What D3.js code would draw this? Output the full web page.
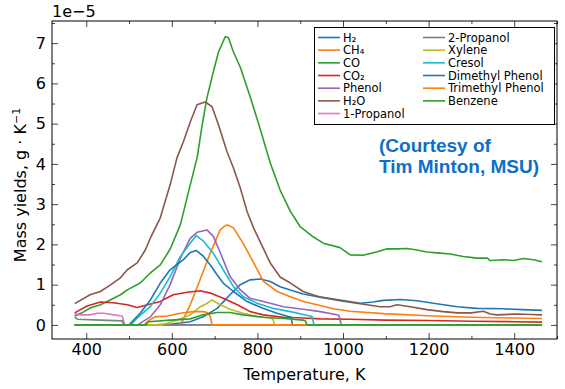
<!DOCTYPE html>
<html>
<head>
<meta charset="utf-8">
<script src="https://cdn.jsdelivr.net/npm/d3@7"></script>
<style>
  body { margin: 0; background: #fff; }
</style>
</head>
<body>
<div class="chart"></div>
<script>
// values in units of 1e-5 g/K, pairs of [temperature K, yield]
const h2 = [[373,0],[560,0],[600,0.02],[643,0.08],[673,0.2],[706,0.41],[736,0.75],[760,1.0],[783,1.12],[807,1.14],[830,1.08],[853,0.95],[877,0.87],[907,0.77],[947,0.69],[993,0.62],[1040,0.54],[1070,0.57],[1094,0.61],[1134,0.63],[1173,0.6],[1211,0.54],[1267,0.45],[1313,0.41],[1375,0.4],[1420,0.38],[1465,0.36]]
const ch4 = [[373,0],[615,0],[625,0.1],[643,0.5],[666,1.12],[690,1.79],[713,2.36],[725,2.47],[732,2.48],[744,2.41],[767,2.02],[791,1.55],[814,1.08],[846,0.83],[877,0.7],[907,0.58],[947,0.48],[977,0.4],[1017,0.34],[1094,0.28],[1211,0.22],[1300,0.19],[1400,0.17],[1465,0.16]]
const co = [[373,0.22],[390,0.3],[409,0.42],[433,0.5],[456,0.62],[480,0.75],[496,0.87],[526,1.04],[550,1.29],[573,1.49],[596,1.88],[620,2.49],[643,3.48],[659,4.15],[671,4.97],[682,5.64],[697,6.29],[709,6.78],[725,7.16],[732,7.14],[744,6.78],[760,6.4],[783,5.67],[807,4.85],[830,4.02],[853,3.35],[877,2.82],[900,2.44],[930,2.19],[954,2.03],[993,1.92],[1017,1.74],[1047,1.73],[1080,1.82],[1103,1.89],[1126,1.89],[1150,1.9],[1173,1.86],[1196,1.81],[1220,1.79],[1250,1.76],[1281,1.7],[1313,1.66],[1337,1.66],[1344,1.6],[1375,1.62],[1398,1.6],[1422,1.65],[1445,1.62],[1465,1.57]]
const co2 = [[373,0.3],[402,0.47],[433,0.57],[463,0.55],[496,0.5],[519,0.43],[550,0.52],[573,0.58],[603,0.75],[636,0.81],[666,0.85],[690,0.79],[720,0.66],[753,0.5],[783,0.33],[814,0.25],[861,0.19],[907,0.17],[947,0.15],[1017,0.14],[1100,0.12],[1200,0.11],[1300,0.09],[1400,0.08],[1465,0.07]]
const phenol = [[373,0],[520,0],[550,0.2],[573,0.5],[596,1.0],[620,1.66],[643,2.15],[659,2.3],[682,2.36],[697,2.2],[713,1.8],[736,1.2],[760,0.87],[783,0.66],[814,0.58],[861,0.45],[907,0.39],[947,0.33],[977,0.27],[990,0.24],[996,0],[1465,0]]
const h2o = [[373,0.53],[409,0.75],[433,0.83],[456,0.99],[479,1.16],[496,1.37],[519,1.54],[538,1.86],[550,2.16],[573,2.66],[596,3.48],[612,4.15],[627,4.55],[643,5.04],[659,5.47],[678,5.54],[694,5.42],[709,4.97],[729,4.3],[744,3.9],[760,3.4],[776,2.81],[791,2.41],[807,2.05],[830,1.54],[853,1.19],[877,1.04],[907,0.83],[947,0.69],[993,0.6],[1024,0.55],[1056,0.5],[1087,0.45],[1110,0.45],[1126,0.5],[1157,0.45],[1196,0.38],[1234,0.33],[1267,0.3],[1300,0.3],[1328,0.34],[1344,0.27],[1360,0.25],[1407,0.27],[1440,0.26],[1465,0.25]]
const propanol1 = [[373,0.28],[385,0.25],[409,0.25],[425,0.29],[440,0.29],[465,0.25],[484,0.22],[490,0],[1465,0]]
const propanol2 = [[373,0.2],[380,0.14],[433,0.12],[484,0.1],[488,0],[1465,0]]
const xylene = [[373,0],[575,0],[600,0.08],[620,0.15],[643,0.25],[666,0.45],[680,0.52],[694,0.62],[713,0.5],[736,0.39],[767,0.29],[799,0.21],[830,0.17],[836,0.15],[840,0],[1465,0]]
const cresol = [[373,0],[505,0],[519,0.17],[550,0.46],[573,0.79],[596,1.2],[620,1.7],[643,2.03],[657,2.22],[674,2.08],[697,1.78],[720,1.37],[744,0.95],[767,0.7],[799,0.54],[837,0.41],[877,0.33],[923,0.22],[928,0.2],[932,0],[1465,0]]
const dimethyl = [[373,0],[500,0],[526,0.29],[550,0.62],[573,1.04],[596,1.37],[627,1.62],[643,1.8],[657,1.85],[674,1.7],[690,1.49],[706,1.24],[720,1.04],[744,0.83],[776,0.58],[814,0.41],[846,0.29],[872,0.21],[878,0.2],[882,0],[1465,0]]
const trimethyl = [[373,0],[535,0],[545,0.1],[560,0.2],[589,0.22],[620,0.29],[650,0.33],[673,0.33],[685,0.3],[690,0.2],[694,0],[1465,0]]
const benzene = [[373,0],[540,0],[545,0.08],[596,0.12],[643,0.15],[673,0.25],[706,0.31],[736,0.31],[767,0.25],[814,0.19],[861,0.16],[907,0.12],[912,0.1],[916,0],[1465,0]]

const names = ['H\u2082', 'CH\u2084', 'CO', 'CO\u2082', 'Phenol', 'H\u2082O', '1-Propanol', '2-Propanol', 'Xylene', 'Cresol', 'Dimethyl Phenol', 'Trimethyl Phenol', 'Benzene']
const colors = ['#1f77b4', '#ff7f0e', '#2ca02c', '#d62728', '#9467bd', '#8c564b', '#e377c2', '#7f7f7f', '#bcbd22', '#17becf', '#1f77b4', '#ff7f0e', '#2ca02c']
const seriesData = [h2, ch4, co, co2, phenol, h2o, propanol1, propanol2, xylene, cresol, dimethyl, trimethyl, benzene]

const xTicks = [400, 600, 800, 1000, 1200, 1400]
const xMinor = [500, 700, 900, 1100, 1300, 1500]
const yTicks = [0, 1, 2, 3, 4, 5, 6, 7]
const yMinor = [0.5, 1.5, 2.5, 3.5, 4.5, 5.5, 6.5, 7.5]

const width = 565,
      height = 389
const pLeft = 52, pRight = 557, pTop = 21, pBottom = 339

const svg = d3.select('.chart').append('svg')
  .attr('width', width)
  .attr('height', height)
  .attr('font-family', 'DejaVu Sans')

const x = d3.scaleLinear().domain([320, 1500]).range([pLeft, pRight])
const y = d3.scaleLinear().domain([-0.35, 7.55]).range([pBottom, pTop])

const line = d3.line()
  .x(d => x(d[0]))
  .y(d => y(d[1]))

svg.append('defs').append('clipPath').attr('id', 'plotclip')
  .append('rect')
  .attr('x', pLeft).attr('y', pTop)
  .attr('width', pRight - pLeft).attr('height', pBottom - pTop)

const g = svg.append('g').attr('clip-path', 'url(#plotclip)')

g.selectAll('path.series')
  .data(seriesData)
  .enter().append('path')
  .attr('class', 'series')
  .attr('d', line)
  .attr('fill', 'none')
  .attr('stroke', (d, i) => colors[i])
  .attr('stroke-width', 1.6)
  .attr('stroke-linejoin', 'round')

// axes, ticks pointing inward on all four sides
function styleAxis(sel) {
  sel.select('.domain').remove()
  sel.selectAll('.tick line').attr('stroke', '#444').attr('stroke-width', 1)
  sel.selectAll('text')
    .attr('font-family', 'DejaVu Sans')
    .attr('font-size', 16)
    .attr('fill', '#000')
}

svg.append('g').attr('transform', `translate(0,${pBottom})`)
  .call(d3.axisBottom(x).tickValues(xTicks).tickSize(-6).tickPadding(5).tickFormat(d3.format('d')))
  .call(styleAxis)
svg.append('g').attr('transform', `translate(0,${pBottom})`)
  .call(d3.axisBottom(x).tickValues(xMinor).tickSize(-3).tickFormat(''))
  .call(styleAxis)
svg.append('g').attr('transform', `translate(0,${pTop})`)
  .call(d3.axisTop(x).tickValues(xTicks).tickSize(-6).tickFormat(''))
  .call(styleAxis)
svg.append('g').attr('transform', `translate(0,${pTop})`)
  .call(d3.axisTop(x).tickValues(xMinor).tickSize(-3).tickFormat(''))
  .call(styleAxis)

svg.append('g').attr('transform', `translate(${pLeft},0)`)
  .call(d3.axisLeft(y).tickValues(yTicks).tickSize(-6).tickPadding(6).tickFormat(d3.format('d')))
  .call(styleAxis)
svg.append('g').attr('transform', `translate(${pLeft},0)`)
  .call(d3.axisLeft(y).tickValues(yMinor).tickSize(-3).tickFormat(''))
  .call(styleAxis)
svg.append('g').attr('transform', `translate(${pRight},0)`)
  .call(d3.axisRight(y).tickValues(yTicks).tickSize(-6).tickFormat(''))
  .call(styleAxis)
svg.append('g').attr('transform', `translate(${pRight},0)`)
  .call(d3.axisRight(y).tickValues(yMinor).tickSize(-3).tickFormat(''))
  .call(styleAxis)

svg.append('rect')
  .attr('x', pLeft).attr('y', pTop)
  .attr('width', pRight - pLeft).attr('height', pBottom - pTop)
  .attr('fill', 'none')
  .attr('stroke', '#000')
  .attr('stroke-width', 1)

svg.append('text')
  .attr('x', pLeft)
  .attr('y', 17)
  .attr('font-size', 16)
  .text('1e\u22125')

svg.append('text')
  .attr('x', (pLeft + pRight) / 2)
  .attr('y', 380)
  .attr('text-anchor', 'middle')
  .attr('font-size', 16)
  .text('Temperature, K')

const ylab = svg.append('text')
  .attr('transform', 'translate(26,185) rotate(-90)')
  .attr('text-anchor', 'middle')
  .attr('font-size', 16)
ylab.append('tspan').text('Mass yields, g \u00b7 K')
ylab.append('tspan').attr('font-size', 11).attr('dy', -6).text('\u22121')

// legend
const lg = svg.append('g')
lg.append('rect')
  .attr('x', 314.5).attr('y', 27.5)
  .attr('width', 240).attr('height', 97)
  .attr('fill', '#fff')
  .attr('stroke', '#000')
  .attr('stroke-width', 1)

names.forEach((name, i) => {
  const col = i < 7 ? 0 : 1
  const row = i < 7 ? i : i - 7
  const lx = col === 0 ? 318 : 423
  const ly = 37.5 + row * 12.67
  lg.append('line')
    .attr('x1', lx).attr('x2', lx + 22)
    .attr('y1', ly).attr('y2', ly)
    .attr('stroke', colors[i])
    .attr('stroke-width', 1.6)
  lg.append('text')
    .attr('x', lx + 25)
    .attr('y', ly + 4)
    .attr('font-size', 11.5)
    .text(name)
})

const note = svg.append('g')
  .attr('font-family', 'Liberation Sans')
  .attr('font-weight', 'bold')
  .attr('font-size', 19)
  .attr('fill', '#0f6fc6')
note.append('text').attr('x', 379).attr('y', 151.5).text('(Courtesy of')
note.append('text').attr('x', 379).attr('y', 173).text('Tim Minton, MSU)')
</script>
</body>
</html>
